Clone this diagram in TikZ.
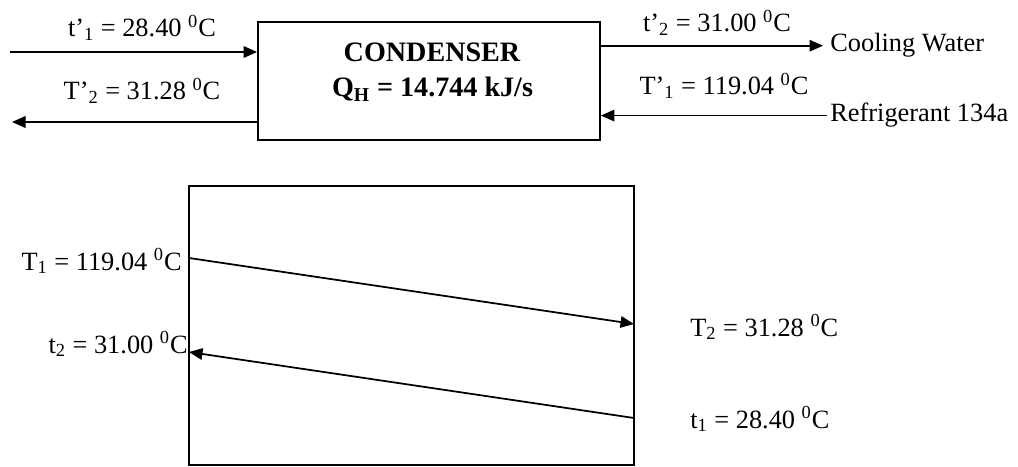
\documentclass[tikz,border=0pt]{standalone}
\usepackage{fontspec}
\setmainfont{Liberation Serif}
\usetikzlibrary{arrows.meta,positioning}

\newcommand{\degC}{\textsuperscript{0}C}

\begin{document}
\begin{tikzpicture}[
    box/.style={rectangle, draw=black, line width=1pt, inner sep=0pt},
    lbl/.style={font=\fontsize{15}{18}\selectfont, inner sep=0pt},
    title/.style={font=\fontsize{16}{19}\selectfont\bfseries, inner sep=0pt, anchor=base},
    flow/.style={-{Triangle[length=2.7mm,width=2.3mm]}, line width=1pt}
]
  \useasboundingbox (0,0) rectangle (20.36,9.32);

  % Condenser block
  \node[box, minimum width=6.84cm, minimum height=2.36cm] (cond) at (8.58,7.70) {};
  \node[title] (name) at (8.64,8.08) {CONDENSER};
  \node[title] (duty) at (8.65,7.38) {Q\textsubscript{H} = 14.744 kJ/s};

  % Stream ends
  \coordinate (cwin) at (0.2,8.28);
  \coordinate (refout) at (0.24,6.88);
  \node[lbl, anchor=base west] (cw) at (16.6,8.28) {Cooling Water};
  \node[lbl, anchor=base west] (r134a) at (16.6,6.88) {Refrigerant 134a};

  \draw[flow] (cwin) -- (cwin -| cond.west);
  \draw[flow] (cond.west |- refout) -- (refout);
  \draw[flow] (cond.east |- cw.west) -- ([xshift=-1.4mm]cw.west);
  \draw[flow] ([xshift=-0.6mm]r134a.west) -- (cond.east |- r134a.west);

  \node[lbl, anchor=base] (tcw1) at (2.84,8.58) {t'\textsubscript{1} = 28.40 \degC};
  \node[lbl, anchor=base] (tr2) at (2.84,7.32) {T'\textsubscript{2} = 31.28 \degC};
  \node[lbl, anchor=base] (tcw2) at (14.34,8.68) {t'\textsubscript{2} = 31.00 \degC};
  \node[lbl, anchor=base] (tr1) at (14.48,7.42) {T'\textsubscript{1} = 119.04 \degC};

  % Temperature profile
  \node[box, minimum width=8.9cm, minimum height=5.58cm] (chart) at (8.23,2.81) {};
  \coordinate (hotin) at (3.78,4.16);
  \coordinate (hotout) at (12.68,2.84);
  \coordinate (coldin) at (12.68,0.96);
  \coordinate (coldout) at (3.78,2.28);
  \draw[flow] (hotin) -- (hotout);
  \draw[flow] (coldin) -- (coldout);

  \node[lbl, anchor=base east] (th1) at (3.64,3.92) {T\textsubscript{1} = 119.04 \degC};
  \node[lbl, anchor=base east] (tc2) at (3.76,2.26) {t\textsubscript{2} = 31.00 \degC};
  \node[lbl, anchor=base west] (th2) at (13.8,2.6) {T\textsubscript{2} = 31.28 \degC};
  \node[lbl, anchor=base west] (tc1) at (13.8,0.76) {t\textsubscript{1} = 28.40 \degC};

\end{tikzpicture}
\end{document}
